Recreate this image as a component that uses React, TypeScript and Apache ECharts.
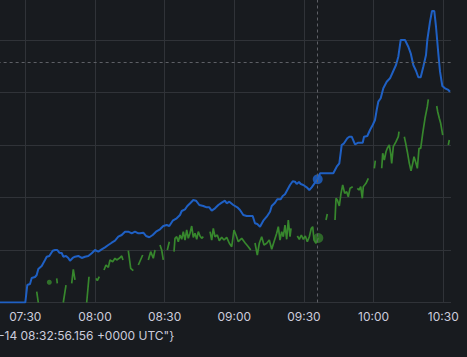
import React, { useEffect, useRef } from "react";
import * as echarts from "echarts";

// x values: minutes after 07:00
const tickLabels = ["07:00", "07:30", "08:00", "08:30", "09:00", "09:30", "10:00", "10:30"];

const blueTime = [
  15, 30.0, 30.86, 32.02, 32.76, 34.18, 34.91, 35.6, 37.06, 38.48, 39.22, 40.34, 41.8, 42.79, 43.78, 44.64,
  45.68, 46.36, 47.53, 48.52, 49.25, 50.41, 51.4, 52.83, 54.29, 55.71, 57.13, 58.6, 60.02, 61.44, 62.9, 64.32,
  65.75, 67.21, 68.63, 70.05, 71.52, 72.94, 74.36, 75.82, 77.24, 78.67, 79.4, 80.82, 81.98, 83.4, 84.87, 86.29,
  88.01, 89.43, 90.9, 92.02, 93.48, 95.2, 96.62, 97.36, 98.78, 99.77, 101.23, 102.35, 103.51, 104.94, 106.66,
  108.12, 109.24, 110.28, 111.7, 113.12, 114.58, 116.0, 116.74, 117.86, 119.58, 121.3, 122.46, 123.88, 125.35,
  127.93, 128.92, 129.91, 131.08, 132.5, 133.96, 135.38, 136.12, 137.54, 138.53, 139.99, 140.85, 141.84, 142.83,
  144.0, 145.16, 146.15, 146.88, 147.87, 148.61, 149.72, 151.19, 152.31, 153.34, 154.76, 155.93, 156.92, 159.07,
  162.64, 164.11, 165.23, 166.26, 167.25, 168.67, 169.53, 170.57, 171.99, 173.41, 175.31, 175.87, 177.29, 178.45,
  179.61, 180.6, 181.33, 182.02, 183.06, 184.18, 185.64, 187.06, 188.48, 189.65, 190.64, 191.67, 193.52, 194.94,
  195.98, 197.1, 198.26, 199.25, 200.28, 201.4, 202.57, 203.13, 204.29, 205.15, 206.14, 206.87, 207.86, 208.6,
  209.59, 210.75, 212.17, 212.9,
];
const blueValue = [
  0, 0, 3.33, 3.52, 4.67, 4.86, 5.24, 6.38, 6.95, 8.1, 8.72, 8.86, 9.87, 10.0, 10.0, 9.49,
  9.43, 8.72, 8.86, 8.48, 7.96, 8.48, 8.72, 8.86, 8.48, 8.72, 8.86, 9.37, 10.0, 9.68, 10.13, 10.51,
  10.95, 11.39, 11.77, 12.53, 12.86, 13.49, 13.49, 13.18, 13.49, 13.18, 13.18, 13.3, 12.67, 12.42, 12.86, 13.49,
  13.94, 14.57, 14.76, 14.57, 15.58, 16.04, 16.67, 17.43, 17.75, 18.38, 19.01, 19.52, 19.39, 18.57, 18.38,
  18.13, 18.13, 17.49, 17.94, 18.57, 19.01, 19.39, 18.9, 19.2, 18.57, 18.13, 17.62, 16.67, 16.48,
  16.48, 15.09, 14.95, 14.44, 15.58, 16.34, 17.3, 18.38, 19.01, 19.66, 19.66, 20.29, 20.61, 21.43,
  22.38, 23.09, 23.01, 22.57, 22.95, 22.57, 22.38, 21.94, 21.43, 21.94, 22.82, 23.47, 24.61, 24.61,
  24.61, 25.87, 26.51, 30.0, 30.32, 31.28, 31.58, 31.58, 30.13, 30.44, 30.44, 31.58, 31.71, 32.86,
  33.81, 34.76, 36.67, 38.25, 38.9, 40.8, 42.06, 42.7, 44.1, 45.24, 46.82, 50.0, 50.0, 48.72,
  47.47, 45.24, 44.15, 42.9, 42.9, 44.91, 47.14, 50.0, 53.49, 55.52, 55.52, 52.53, 47.47, 43.96,
  41.24, 40.8, 40.48, 40.15,
];

// null marks a gap in the green series
const greenTime: (number | null)[] = [
  34.91, 35.6, null,
  40.34, null,
  43.52, 43.78, null,
  46.36, 47.53, null,
  49.98, 50.67, 51.4, null,
  56.44, 57.43, null,
  60.45, 61.01, 61.87, null,
  63.89, 64.75, 65.75, 66.48, 67.64, 68.63, 69.36, 70.48, 71.52, 72.07, null,
  74.36, 75.39, 76.51, null,
  78.67, 80.56, null,
  82.97, 84.0, 85.12, 85.86, null,
  88.01, 88.74, 89.43, null,
  91.16, 92.02, null,
  94.04, 94.47, 95.2, 95.89, 96.62, 97.36, 98.04, 98.78, 99.51, 100.2, 100.93, 101.66, 102.35, 103.08, 103.82,
  104.51, 105.24, 105.97, 106.66, null,
  109.55, 110.28, 110.96, 111.7, 112.69, 113.55, 114.58, 115.57, 116.74, 117.86, 118.89, 119.88, 120.74, 121.73,
  123.19, 124.61, 126.04, 127.07, null,
  128.92, 129.91, 130.77, 131.8, 132.79, 133.96, 135.07, 136.12, 137.1, 138.27, 138.96, 139.69, 140.42, 141.11,
  141.84, 142.57, 143.26, 144.0, 144.43, null,
  147.15, 148.01, 148.87, 149.72, 150.59, 151.45, 152.31, 153.17, 153.77, 154.33, 155.19, 156.19, null,
  159.5, 160.06, null,
  163.38, 163.81, 164.37, 165.23, 165.96, 166.69, 167.55, 168.41, 169.1, 169.84, 171.0, null,
  172.98, 173.71, 174.44, 175.13, 175.57, 176.73, 177.72, null,
  180.31, 180.73, null,
  183.49, 183.92, 184.61, 185.34, 185.9, 186.76, 187.36, 187.79, 188.48, 189.65, 190.64, 190.94, null,
  193.22, 193.83, 194.52, 195.38, 196.11, 196.85, 197.4, 198.26, 198.83, 199.56, 200.28, 201.15, 202.14, 203.13,
  203.56, null,
  207.17, 207.6, 208.29, 208.89, 209.76, null,
  212.17, 212.6,
];
const greenValue: (number | null)[] = [
  2.06, 0, null,
  3.85, null,
  4.61, 3.66, null,
  0, 3.33, null,
  3.66, 6.32, 4.29, null,
  0, 4.91, null,
  4.61, 4.15, 4.91, null,
  6.19, 7.14, 6.7, 8.1, 7.77, 8.42, 8.1, 8.42, 8.86, 8.1, null,
  9.87, 6.51, 6.06, null,
  7.14, 9.05, null,
  8.1, 9.68, 8.42, 10.0, null,
  10.95, 10.0, 8.1, null,
  10.0, 11.58, null,
  9.68, 12.23, 12.53, 11.58, 12.86, 12.04, 13.49, 11.9, 13.81, 12.23, 13.18, 14.57, 12.42, 13.18, 12.04,
  13.49, 12.67, 12.23, 12.53, null,
  13.49, 11.9, 14.13, 12.53, 12.86, 11.77, 12.42, 11.9, 12.42, 11.28, 10.63, 13.81, 12.86, 11.58,
  12.23, 11.39, 10.63, 10.0, null,
  11.33, 9.05, 11.28, 12.53, 10.95, 11.28, 11.9, 10.13, 11.58, 13.18, 14.44, 11.9, 13.49, 12.53,
  14.76, 12.04, 15.71, 12.53, 14.13, null,
  12.67, 12.04, 12.86, 12.04, 12.67, 11.58, 12.53, 14.13, 14.44, 11.9, 11.28, 12.29, null,
  15.71, 16.86, null,
  15.71, 19.85, 19.52, 18.38, 20.8, 22.38, 20.8, 21.1, 20.15, 21.75, 22.06, null,
  21.75, 21.43, 22.06, 19.85, 22.06, 22.7, 23.66, null,
  25.56, 27.01, null,
  25.56, 28.42, 27.14, 28.72, 29.37, 30.0, 28.42, 26.51, 29.68, 30.63, 31.58, 32.53, null,
  31.58, 30.32, 28.72, 26.51, 25.1, 26.51, 27.77, 26.51, 25.56, 29.37, 29.37, 32.23, 35.09, 37.3,
  38.7, null,
  37.43, 36.34, 35.09, 34.13, 31.9, null,
  30.0, 30.95,
];

const hoverTime = 155.93;
const crosshairValue = 45.81;
const legendText = '-14 08:32:56.156 +0000 UTC"}';

const BLUE = "#1F60C4";
const GREEN = "#37872D";
const BG = "#181b1f";
const GRID = "#303338";
const DASH = "#5e6066";

function nearest(times: (number | null)[], values: (number | null)[], t: number) {
  let best = -1;
  let bd = Infinity;
  times.forEach((x, i) => {
    if (x == null || values[i] == null) return;
    const d = Math.abs(x - t);
    if (d < bd) {
      bd = d;
      best = i;
    }
  });
  return [times[best], values[best]];
}

export default function App() {
  const ref = useRef<HTMLDivElement>(null);
  useEffect(() => {
    if (!ref.current) return;
    const chart = echarts.init(ref.current, null, { renderer: "svg" });
    const blueData = blueTime.map((t, i) => [t, blueValue[i]]);
    const greenData = greenTime.map((t, i) =>
      t == null || greenValue[i] == null ? ["-", "-"] : [t, greenValue[i]]
    );
    const isolated: number[][] = [];
    greenTime.forEach((t, i) => {
      if (t == null || greenValue[i] == null) return;
      const prevNull = i === 0 || greenValue[i - 1] == null;
      const nextNull = i === greenTime.length - 1 || greenValue[i + 1] == null;
      if (prevNull && nextNull) isolated.push([t, greenValue[i] as number]);
    });
    const blueHover = nearest(blueTime, blueValue, hoverTime);
    const greenHover = nearest(greenTime, greenValue, hoverTime);

    chart.setOption({
      animation: false,
      backgroundColor: BG,
      grid: {
        left: -44.36,
        right: 16,
        top: -12.5,
        bottom: 54.5,
        containLabel: false,
        outerBoundsMode: "none",
      },
      xAxis: {
        type: "value",
        min: 0,
        max: 213.33,
        interval: 30,
        axisLine: { show: false },
        axisTick: { show: false },
        splitLine: { show: true, showMaxLine: false, lineStyle: { color: GRID, width: 1 } },
        axisLabel: {
          color: "#ccccdc",
          fontFamily: "Inter",
          fontSize: 12,
          margin: 8,
          showMinLabel: false,
          showMaxLabel: false,
          formatter: (v: number) => {
            const k = Math.round(v / 30);
            return Math.abs(v - k * 30) < 0.01 ? tickLabels[k] ?? "" : "";
          },
        },
      },
      yAxis: {
        type: "value",
        min: 0,
        max: 60,
        interval: 10,
        axisLine: { show: false },
        axisTick: { show: false },
        axisLabel: { show: false },
        splitLine: { show: true, lineStyle: { color: GRID, width: 1 } },
      },
      series: [
        {
          type: "line",
          data: blueData,
          showSymbol: false,
          connectNulls: false,
          lineStyle: { color: BLUE, width: 2 },
          itemStyle: { color: BLUE },
          z: 3,
          markLine: {
            silent: true,
            symbol: ["none", "none"],
            label: { show: false },
            lineStyle: { color: DASH, width: 1, type: [3, 3] },
            data: [{ xAxis: hoverTime }, { yAxis: crosshairValue }],
          },
        },
        {
          type: "line",
          data: greenData,
          showSymbol: false,
          connectNulls: false,
          lineStyle: { color: GREEN, width: 1.7 },
          itemStyle: { color: GREEN },
          z: 2,
        },
        {
          type: "scatter",
          data: isolated,
          symbolSize: 5,
          itemStyle: { color: GREEN },
          z: 2,
        },
        {
          type: "scatter",
          data: [blueHover],
          symbolSize: 10,
          itemStyle: { color: BLUE, opacity: 0.85 },
          z: 4,
        },
        {
          type: "scatter",
          data: [greenHover],
          symbolSize: 10,
          itemStyle: { color: GREEN, opacity: 0.7 },
          z: 4,
        },
      ],
      graphic: [
        {
          type: "text",
          left: -1,
          top: 329,
          style: {
            text: legendText,
            fill: "#ccccdc",
            font: "12px Inter",
          },
        },
      ],
    });
    return () => chart.dispose();
  }, []);
  return (
    <div
      ref={ref}
      style={{ position: "absolute", left: 0, top: 0, width: 467, height: 357, background: BG }}
    />
  );
}
